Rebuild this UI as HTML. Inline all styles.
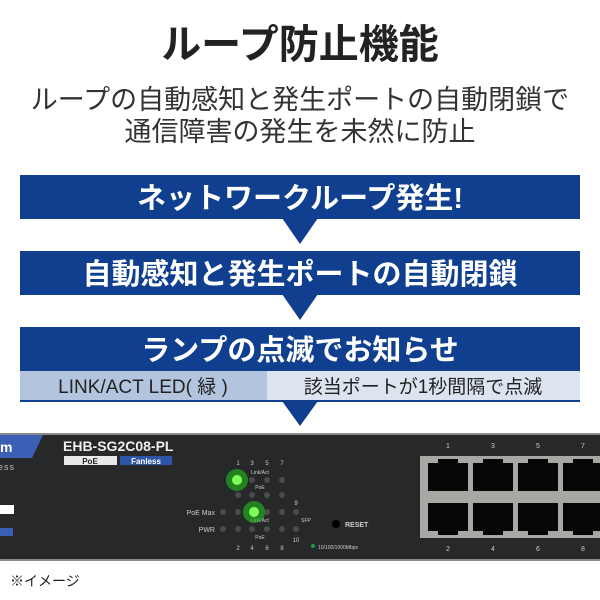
<!DOCTYPE html>
<html><head><meta charset="utf-8"><style>
html,body{margin:0;padding:0;background:#fff;}
body{width:600px;height:600px;overflow:hidden;position:relative;font-family:"Liberation Sans","Noto Sans CJK JP",sans-serif;}
.t{position:absolute;left:0;width:600px;text-align:center;white-space:nowrap;}
</style></head><body>
<div class="t" style="top:18px;font-size:40px;font-weight:bold;color:#222;line-height:54px;">ループ防止機能</div>
<div class="t" style="top:83px;font-size:27px;color:#333;line-height:34px;">ループの自動感知と発生ポートの自動閉鎖で</div>
<div class="t" style="top:115px;font-size:27px;color:#333;line-height:34px;">通信障害の発生を未然に防止</div>

<svg width="600" height="600" style="position:absolute;left:0;top:0" xmlns="http://www.w3.org/2000/svg">
<rect x="20" y="175" width="560" height="44" fill="#0f3f8e"/>
<polygon points="282,218 318,218 300,244" fill="#0f3f8e"/>
<rect x="20" y="251" width="560" height="44" fill="#0f3f8e"/>
<polygon points="282,294 318,294 300,320" fill="#0f3f8e"/>
<rect x="20" y="327" width="560" height="44" fill="#0f3f8e"/>
<rect x="20" y="371" width="247" height="30" fill="#b3c5de"/>
<rect x="267" y="371" width="313" height="30" fill="#dce4ef"/>
<rect x="20" y="400" width="560" height="2" fill="#0f3f8e"/>
<polygon points="282,401 318,401 300,426" fill="#0f3f8e"/>
<g font-family="Liberation Sans, Noto Sans CJK JP, sans-serif" font-weight="bold" fill="#fff" font-size="29" text-anchor="middle">
<text x="300" y="208">ネットワークループ発生!</text>
<text x="300" y="284">自動感知と発生ポートの自動閉鎖</text>
<text x="300" y="360">ランプの点滅でお知らせ</text>
</g>
<g font-family="Liberation Sans, Noto Sans CJK JP, sans-serif" fill="#222" font-size="19" text-anchor="middle">
<text x="143" y="393">LINK/ACT LED( 緑 )</text>
<text x="423" y="393">該当ポートが1秒間隔で点滅</text>
</g>

<!-- switch -->
<rect x="0" y="433" width="600" height="128" fill="#8a8a8a"/>
<rect x="0" y="435" width="600" height="124" fill="#27282a"/>
<polygon points="0,435 43,435 32,458 0,458" fill="#3a5fb5"/>
<text x="0" y="452" font-size="14" font-weight="bold" fill="#fff" font-family="Liberation Sans, sans-serif">m</text>
<text x="-2" y="470" font-size="9" fill="#bbb" font-family="Liberation Sans, sans-serif" letter-spacing="1">ess</text>
<rect x="0" y="528" width="13" height="8" fill="#3a5fb5"/>
<rect x="0" y="505" width="14" height="9" fill="#fff"/>
<text x="63" y="451" font-size="14" font-weight="bold" fill="#eee" font-family="Liberation Sans, sans-serif">EHB-SG2C08-PL</text>
<rect x="64" y="456" width="53" height="9" fill="#e8e8e8"/>
<text x="90" y="464" font-size="8" font-weight="bold" fill="#222" text-anchor="middle" font-family="Liberation Sans, sans-serif">PoE</text>
<rect x="120" y="456" width="52" height="9" fill="#2f55a8"/>
<text x="146" y="464" font-size="8" font-weight="bold" fill="#fff" text-anchor="middle" font-family="Liberation Sans, sans-serif">Fanless</text>

<g font-family="Liberation Sans, sans-serif" fill="#ccc" font-size="6" text-anchor="middle">
<text x="238" y="465">1</text><text x="252" y="465">3</text><text x="267" y="465">5</text><text x="282" y="465">7</text>
<text x="238" y="550">2</text><text x="252" y="550">4</text><text x="267" y="550">6</text><text x="282" y="550">8</text>
<text x="296" y="505">9</text><text x="296" y="542">10</text>
<text x="260" y="474" font-size="5">Link/Act</text><text x="260" y="489" font-size="5">PoE</text>
<text x="260" y="522" font-size="5">Link/Act</text><text x="260" y="539" font-size="5">PoE</text>
<text x="306" y="522" font-size="5">SFP</text>
<text x="215" y="515" text-anchor="end" font-size="7">PoE Max</text>
<text x="215" y="532" text-anchor="end" font-size="7">PWR</text>
<text x="345" y="527" text-anchor="start" font-size="7" font-weight="bold">RESET</text>
<text x="318" y="549" text-anchor="start" font-size="5">10/100/1000Mbps</text>
</g>
<g fill="#4a4b4d">
<circle cx="238" cy="480" r="3"/><circle cx="252" cy="480" r="3"/><circle cx="267" cy="480" r="3"/><circle cx="282" cy="480" r="3"/>
<circle cx="238" cy="495" r="3"/><circle cx="252" cy="495" r="3"/><circle cx="267" cy="495" r="3"/><circle cx="282" cy="495" r="3"/>
<circle cx="223" cy="512" r="3"/><circle cx="238" cy="512" r="3"/><circle cx="252" cy="512" r="3"/><circle cx="267" cy="512" r="3"/><circle cx="282" cy="512" r="3"/><circle cx="296" cy="512" r="3"/>
<circle cx="223" cy="529" r="3"/><circle cx="238" cy="529" r="3"/><circle cx="252" cy="529" r="3"/><circle cx="267" cy="529" r="3"/><circle cx="282" cy="529" r="3"/><circle cx="296" cy="529" r="3"/>
</g>
<circle cx="237" cy="480" r="11" fill="#22c01a" opacity="0.6"/>
<circle cx="237" cy="480" r="5" fill="#7dff5a"/>
<circle cx="254" cy="512" r="11" fill="#22c01a" opacity="0.6"/>
<circle cx="254" cy="512" r="5" fill="#7dff5a"/>
<circle cx="336" cy="524" r="4" fill="#000"/>
<circle cx="313" cy="546" r="2" fill="#1f9a4a"/>

<g font-family="Liberation Sans, sans-serif" fill="#ccc" font-size="7" text-anchor="middle">
<text x="448" y="448">1</text><text x="493" y="448">3</text><text x="538" y="448">5</text><text x="583" y="448">7</text>
<text x="448" y="551">2</text><text x="493" y="551">4</text><text x="538" y="551">6</text><text x="583" y="551">8</text>
</g>
<rect x="420" y="456" width="180" height="82" fill="#a9a7a3"/>
<g fill="#070707">
<rect x="428" y="463" width="40" height="28"/><rect x="473" y="463" width="40" height="28"/><rect x="518" y="463" width="40" height="28"/><rect x="563" y="463" width="37" height="28"/>
<rect x="428" y="503" width="40" height="28"/><rect x="473" y="503" width="40" height="28"/><rect x="518" y="503" width="40" height="28"/><rect x="563" y="503" width="37" height="28"/>
<rect x="438" y="459" width="20" height="5"/><rect x="483" y="459" width="20" height="5"/><rect x="528" y="459" width="20" height="5"/><rect x="573" y="459" width="20" height="5"/>
<rect x="438" y="530" width="20" height="5"/><rect x="483" y="530" width="20" height="5"/><rect x="528" y="530" width="20" height="5"/><rect x="573" y="530" width="20" height="5"/>
</g>
</svg>
<div style="position:absolute;left:10px;top:571px;font-size:14px;color:#222;line-height:20px;">※イメージ</div>
</body></html>
